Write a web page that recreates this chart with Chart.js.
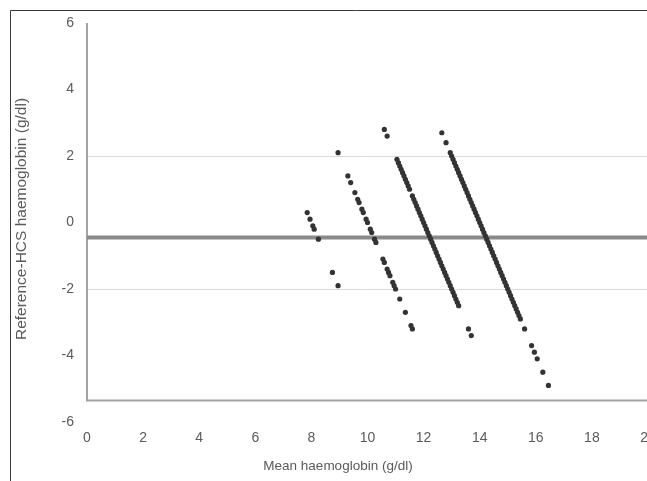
<!DOCTYPE html>
<html>
<head>
<meta charset="utf-8">
<script src="https://cdn.jsdelivr.net/npm/chart.js@4.4.1/dist/chart.umd.min.js"></script>
<style>
  html, body { margin: 0; padding: 0; background: #fff; overflow: hidden; }
  #wrap { position: relative; width: 700px; height: 481px; }
</style>
</head>
<body>
<div id="wrap"><canvas id="chart" width="700" height="481"></canvas></div>
<script>
// Punkte je Referenzwert: [Mittelwert, Differenz Reference-HCS]
const ref8 = [
  [7.85, 0.3], [7.95, 0.1], [8.05, -0.1], [8.1, -0.2], [8.25, -0.5],
  [8.75, -1.5], [8.95, -1.9]
];
const ref10 = [
  [8.95, 2.1], [9.3, 1.4], [9.4, 1.2],
  [9.55, 0.9], [9.65, 0.7], [9.7, 0.6], [9.8, 0.4], [9.85, 0.3], [9.95, 0.1],
  [10.0, 0.0], [10.1, -0.2], [10.15, -0.3], [10.25, -0.5], [10.3, -0.6],
  [10.55, -1.1], [10.6, -1.2], [10.7, -1.4], [10.75, -1.5], [10.8, -1.6],
  [10.9, -1.8], [10.95, -1.9], [11.0, -2.0],
  [11.15, -2.3], [11.35, -2.7], [11.55, -3.1], [11.6, -3.2]
];
const ref12 = [
  [10.6, 2.8], [10.7, 2.6],
  [11.05, 1.9], [11.1, 1.8], [11.15, 1.7], [11.2, 1.6], [11.25, 1.5],
  [11.3, 1.4], [11.35, 1.3], [11.4, 1.2], [11.45, 1.1], [11.5, 1.0],
  [11.6, 0.8], [11.65, 0.7], [11.7, 0.6], [11.75, 0.5], [11.8, 0.4],
  [11.85, 0.3], [11.9, 0.2], [11.95, 0.1], [12.0, 0.0], [12.05, -0.1],
  [12.1, -0.2], [12.15, -0.3], [12.2, -0.4], [12.25, -0.5], [12.3, -0.6],
  [12.35, -0.7], [12.4, -0.8], [12.45, -0.9], [12.5, -1.0], [12.55, -1.1],
  [12.6, -1.2], [12.65, -1.3], [12.7, -1.4], [12.75, -1.5], [12.8, -1.6],
  [12.85, -1.7], [12.9, -1.8], [12.95, -1.9], [13.0, -2.0], [13.05, -2.1],
  [13.1, -2.2], [13.15, -2.3], [13.2, -2.4], [13.25, -2.5],
  [13.6, -3.2], [13.7, -3.4]
];
const ref14 = [
  [12.65, 2.7], [12.8, 2.4],
  [12.95, 2.1], [13.0, 2.0], [13.05, 1.9], [13.1, 1.8], [13.15, 1.7],
  [13.2, 1.6], [13.25, 1.5], [13.3, 1.4], [13.35, 1.3], [13.4, 1.2],
  [13.45, 1.1], [13.5, 1.0], [13.55, 0.9], [13.6, 0.8], [13.65, 0.7],
  [13.7, 0.6], [13.75, 0.5], [13.8, 0.4], [13.85, 0.3], [13.9, 0.2],
  [13.95, 0.1], [14.0, 0.0], [14.05, -0.1], [14.1, -0.2], [14.15, -0.3],
  [14.2, -0.4], [14.25, -0.5], [14.3, -0.6], [14.35, -0.7], [14.4, -0.8],
  [14.45, -0.9], [14.5, -1.0], [14.55, -1.1], [14.6, -1.2], [14.65, -1.3],
  [14.7, -1.4], [14.75, -1.5], [14.8, -1.6], [14.85, -1.7], [14.9, -1.8],
  [14.95, -1.9], [15.0, -2.0], [15.05, -2.1], [15.1, -2.2], [15.15, -2.3],
  [15.2, -2.4], [15.25, -2.5], [15.3, -2.6], [15.35, -2.7], [15.4, -2.8],
  [15.45, -2.9],
  [15.6, -3.2], [15.85, -3.7], [15.95, -3.9], [16.05, -4.1], [16.25, -4.5],
  [16.45, -4.9]
];
const meanDiff = -0.45;

const xTicks = [0, 2, 4, 6, 8, 10, 12, 14, 16, 18, 20];
const yTicks = [-6, -4, -2, 0, 2, 4, 6];
const yGridValues = [-2, 2];
const axisCrossY = -5.35;

const xTitle = "Mean haemoglobin (g/dl)";
const yTitle = "Reference-HCS haemoglobin (g/dl)";

const FONT = '"Liberation Sans", Arial, sans-serif';
const TEXT = "#5a5a5a";

// Achsenlinien, Rahmen und Achsentitel
const decorations = {
  id: "decorations",
  beforeDatasetsDraw(chart) {
    const { ctx, scales: { x, y } } = chart;
    const x0 = x.getPixelForValue(0);
    const yb = y.getPixelForValue(axisCrossY);
    ctx.save();
    ctx.strokeStyle = "#a3a3a3";
    ctx.lineWidth = 2;
    ctx.beginPath();
    ctx.moveTo(x0, y.getPixelForValue(6));
    ctx.lineTo(x0, yb);
    ctx.lineTo(x.right, yb);
    ctx.stroke();
    ctx.restore();
  },
  afterDraw(chart) {
    const { ctx } = chart;
    ctx.save();
    ctx.strokeStyle = "#3a3a3a";
    ctx.lineWidth = 1;
    ctx.beginPath();
    ctx.moveTo(10.5, 481);
    ctx.lineTo(10.5, 10.5);
    ctx.lineTo(700, 10.5);
    ctx.stroke();

    ctx.fillStyle = TEXT;
    ctx.textAlign = "center";
    ctx.textBaseline = "middle";
    ctx.font = "13.5px " + FONT;
    ctx.fillText(xTitle, 338, 466);
    ctx.font = "15.5px " + FONT;
    ctx.translate(22, 219);
    ctx.rotate(-Math.PI / 2);
    ctx.fillText(yTitle, 0, 0);
    ctx.restore();
  }
};

const pointStyle = {
  type: "scatter",
  pointRadius: 2.6,
  pointBackgroundColor: "#333",
  pointBorderWidth: 0,
  order: 0
};

const toPoints = arr => arr.map(p => ({ x: p[0], y: p[1] }));

new Chart(document.getElementById("chart"), {
  type: "scatter",
  data: {
    datasets: [
      ...[ref8, ref10, ref12, ref14].map(set => ({ ...pointStyle, data: toPoints(set) })),
      {
        type: "line",
        data: [{ x: 0, y: meanDiff }, { x: 20, y: meanDiff }],
        borderColor: "#8a8a8a",
        borderWidth: 4,
        pointRadius: 0,
        order: 1
      }
    ]
  },
  options: {
    responsive: false,
    devicePixelRatio: 1,
    animation: false,
    layout: { padding: { top: 23, right: 52, left: 0, bottom: 0 } },
    plugins: { legend: { display: false }, tooltip: { enabled: false } },
    scales: {
      x: {
        type: "linear",
        min: 0,
        max: 20,
        afterBuildTicks: s => { s.ticks = xTicks.map(v => ({ value: v })); },
        afterFit: s => { s.height = 59; },
        grid: { display: false, drawTicks: false },
        border: { display: false },
        ticks: { color: TEXT, font: { family: FONT, size: 14 }, padding: 8, maxRotation: 0, autoSkip: false }
      },
      y: {
        min: -6,
        max: 6,
        afterBuildTicks: s => { s.ticks = yTicks.map(v => ({ value: v })); },
        afterFit: s => { s.width = 87; },
        grid: {
          drawTicks: false,
          color: c => (c.tick && yGridValues.includes(c.tick.value) ? "#dadada" : "transparent")
        },
        border: { display: false },
        ticks: { color: TEXT, font: { family: FONT, size: 14 }, padding: 13 }
      }
    }
  },
  plugins: [decorations]
});
</script>
</body>
</html>
